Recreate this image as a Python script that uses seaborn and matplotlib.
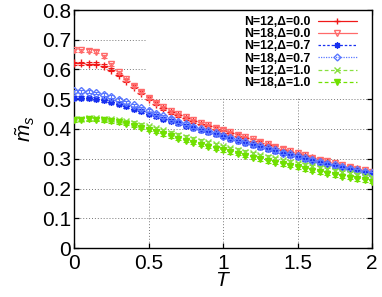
import numpy as np
import matplotlib
matplotlib.use("Agg")
import matplotlib.pyplot as plt
import seaborn as sns
from matplotlib.lines import Line2D
from matplotlib.patches import Rectangle

sns.set_theme(style="ticks")
plt.rcParams['font.family'] = ['Liberation Sans', 'DejaVu Sans']
plt.rcParams['mathtext.fontset'] = 'custom'
plt.rcParams['mathtext.it'] = 'Liberation Sans:italic'
plt.rcParams['mathtext.rm'] = 'Liberation Sans'

# temperature grid
T = [0.00, 0.05, 0.10, 0.15, 0.20, 0.25, 0.30, 0.35, 0.40, 0.45,
     0.50, 0.55, 0.60, 0.65, 0.70, 0.75, 0.80, 0.85, 0.90, 0.95,
     1.00, 1.05, 1.10, 1.15, 1.20, 1.25, 1.30, 1.35, 1.40, 1.45,
     1.50, 1.55, 1.60, 1.65, 1.70, 1.75, 1.80, 1.85, 1.90, 1.95, 2.00]

m_n12_d00 = [0.621, 0.621, 0.620, 0.619, 0.613, 0.600, 0.582, 0.562, 0.542, 0.522,
             0.502, 0.485, 0.470, 0.457, 0.446, 0.436, 0.426, 0.417, 0.409, 0.401,
             0.393, 0.385, 0.377, 0.369, 0.361, 0.353, 0.345, 0.337, 0.329, 0.322,
             0.315, 0.308, 0.301, 0.294, 0.288, 0.282, 0.276, 0.270, 0.264, 0.258, 0.252]
m_n18_d00 = [0.664, 0.664, 0.663, 0.660, 0.645, 0.618, 0.590, 0.567, 0.546, 0.525,
             0.505, 0.488, 0.473, 0.460, 0.449, 0.439, 0.429, 0.420, 0.412, 0.404,
             0.397, 0.389, 0.381, 0.373, 0.365, 0.357, 0.349, 0.341, 0.333, 0.325,
             0.318, 0.311, 0.304, 0.297, 0.291, 0.285, 0.279, 0.273, 0.267, 0.261, 0.255]
m_n12_d07 = [0.505, 0.505, 0.504, 0.501, 0.497, 0.491, 0.484, 0.476, 0.468, 0.459,
             0.451, 0.443, 0.435, 0.427, 0.419, 0.411, 0.404, 0.396, 0.389, 0.382,
             0.375, 0.367, 0.360, 0.353, 0.346, 0.339, 0.332, 0.325, 0.318, 0.312,
             0.306, 0.299, 0.293, 0.287, 0.281, 0.275, 0.270, 0.264, 0.259, 0.253, 0.248]
m_n18_d07 = [0.527, 0.527, 0.525, 0.521, 0.515, 0.508, 0.499, 0.490, 0.480, 0.470,
             0.461, 0.452, 0.443, 0.434, 0.425, 0.417, 0.408, 0.400, 0.392, 0.385,
             0.377, 0.370, 0.363, 0.356, 0.349, 0.342, 0.335, 0.328, 0.321, 0.315,
             0.309, 0.302, 0.296, 0.290, 0.284, 0.278, 0.273, 0.267, 0.262, 0.256, 0.251]
m_n12_d10 = [0.434, 0.435, 0.436, 0.436, 0.435, 0.433, 0.430, 0.426, 0.421, 0.415,
             0.409, 0.402, 0.395, 0.388, 0.381, 0.374, 0.367, 0.361, 0.355, 0.348,
             0.342, 0.336, 0.330, 0.324, 0.318, 0.312, 0.306, 0.301, 0.295, 0.290,
             0.285, 0.280, 0.275, 0.270, 0.265, 0.260, 0.255, 0.251, 0.246, 0.242, 0.238]
m_n18_d10 = [0.430, 0.431, 0.432, 0.431, 0.429, 0.426, 0.422, 0.417, 0.411, 0.404,
             0.397, 0.390, 0.383, 0.375, 0.368, 0.361, 0.354, 0.347, 0.341, 0.334,
             0.328, 0.322, 0.316, 0.310, 0.304, 0.298, 0.292, 0.287, 0.281, 0.276,
             0.271, 0.265, 0.260, 0.255, 0.250, 0.245, 0.240, 0.236, 0.231, 0.227, 0.222]
ERR = 0.005

labels = ['N=12,\u0394=0.0', 'N=18,\u0394=0.0', 'N=12,\u0394=0.7',
          'N=18,\u0394=0.7', 'N=12,\u0394=1.0', 'N=18,\u0394=1.0']
series = [m_n12_d00, m_n18_d00, m_n12_d07, m_n18_d07, m_n12_d10, m_n18_d10]

styles = [
    dict(color='#f01818', marker='+', ls='-', mfc='#f01818'),
    dict(color='#ff6a6a', marker='v', ls='-', mfc='none'),
    dict(color='#1830f0', marker=(8, 2, 0), ls=(0, (2, 1.5)), mfc='#1830f0'),
    dict(color='#5a78ff', marker='D', ls=(0, (1, 1)), mfc='none'),
    dict(color='#88e040', marker='x', ls=(0, (3, 2)), mfc='#88e040'),
    dict(color='#70e000', marker='v', ls=(0, (3, 2)), mfc='#70e000'),
]
msizes = [5.5, 5, 5, 4, 4.5, 5]

fig = plt.figure(figsize=(3.82, 2.97), dpi=100)
ax = fig.add_axes([74 / 382, 49 / 297, 298 / 382, 238 / 297])

for y, st, ms in zip(series, styles, msizes):
    ax.errorbar(T, y, yerr=ERR, fmt='none', ecolor=st['color'], elinewidth=0.8,
                capsize=2, capthick=0.8, zorder=3)
    ax.plot(T, y, linestyle='none', marker=st['marker'], color=st['color'],
            mfc=st['mfc'], mec=st['color'], ms=ms, mew=1.0, zorder=3)

ax.set_xlim(0, 2)
ax.set_ylim(0, 0.8)
ax.set_xticks([0, 0.5, 1, 1.5, 2])
ax.set_xticklabels(['0', '0.5', '1', '1.5', '2'])
ax.set_yticks(np.arange(0, 0.81, 0.1))
ax.set_yticklabels(['0', '0.1', '0.2', '0.3', '0.4', '0.5', '0.6', '0.7', '0.8'])
ax.tick_params(direction='in', length=3.6, width=0.9, labelsize=15, color='black',
               labelcolor='black', top=True, right=True)
ax.tick_params(axis='x', pad=4)
ax.tick_params(axis='y', pad=2)
for s in ax.spines.values():
    s.set_linewidth(1.0)
    s.set_color('black')

ax.set_axisbelow(True)
ax.grid(True, linestyle=(0, (1, 2)), color='#777777', linewidth=0.7)

# opaque key area hides the grid behind the legend
ax.add_patch(Rectangle((0.245, 0.635), 0.755, 0.365, transform=ax.transAxes,
                       facecolor='white', edgecolor='none', zorder=1))

handles = [Line2D([], [], color=st['color'], ls=st['ls'], lw=0.9, marker=st['marker'],
                  mfc=st['mfc'], mec=st['color'], ms=ms - 0.5, mew=1.0)
           for st, ms in zip(styles, msizes)]
leg = ax.legend(handles, labels, loc='upper right', markerfirst=False,
                bbox_to_anchor=(357 / 382, (297 - 16) / 297), bbox_transform=fig.transFigure,
                frameon=False, borderpad=0, borderaxespad=0, handlelength=3.2,
                handletextpad=0.6, labelspacing=0.02, prop=dict(size=8.8, weight='bold'))
for t in leg.get_texts():
    t.set_color('black')

ax.set_xlabel(r'$T$', fontsize=15, labelpad=-1, color='black')
ax.set_ylabel(r'$\tilde{m}_s$', fontsize=15, labelpad=4, color='black')

fig.savefig('out.png', dpi=100)
